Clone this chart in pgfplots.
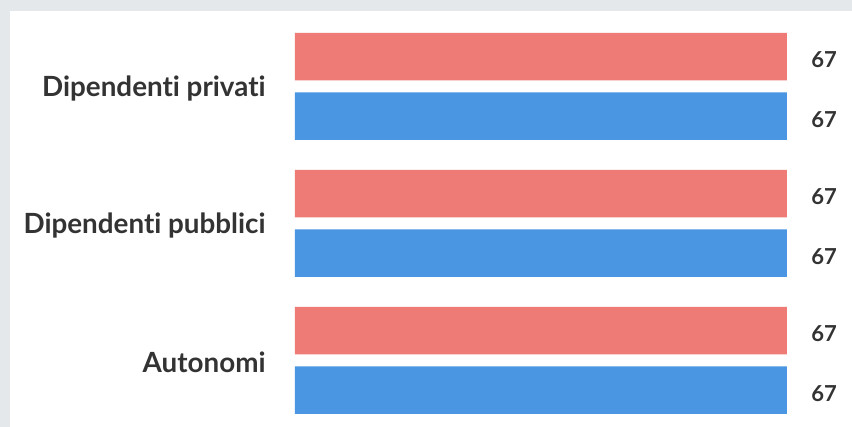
\documentclass[border=0pt]{standalone}
\usepackage{fontspec}
\setmainfont{Lato}[Ligatures=NoCommon]
\usepackage{pgfplots}
\pgfplotsset{compat=1.18}
\definecolor{redbar}{RGB}{238,123,117}
\definecolor{bluebar}{RGB}{74,150,227}
\definecolor{txt}{RGB}{51,51,51}
\definecolor{framegrey}{RGB}{229,232,235}
\begin{document}
\begin{tikzpicture}[x=0.5pt,y=0.5pt]
\fill[framegrey] (0,0) rectangle (852,427);
\fill[white] (10,0) rectangle (852,416);
\useasboundingbox (0,0) rectangle (852,427);
\begin{axis}[
  at={(147.5pt,0pt)}, anchor=south west,
  scale only axis, width=246pt, height=213.5pt,
  xmin=0, xmax=67, ymin=-0.6314, ymax=2.4854, y dir=reverse,
  axis line style={draw=none}, major tick length=0pt,
  xtick=\empty, ytick={0,1,2},
  yticklabels={Dipendenti privati,Dipendenti pubblici,Autonomi},
  yticklabel style={font=\fontsize{13.9}{16}\selectfont\bfseries, text=txt, anchor=east, inner sep=0pt, xshift=-14.5pt, yshift=-1pt},
  xbar, bar width=23.75pt,
  clip=false,
  /pgf/number format/assume math mode=true,
  nodes near coords,
  every node near coord/.append style={anchor=west, inner sep=0pt, xshift=12pt, yshift=-1.5pt, font=\fontsize{11}{13}\selectfont\bfseries, text=txt},
]
\addplot[draw=none, fill=redbar, bar shift=14.875pt] coordinates {(67,0) (67,1) (67,2)};
\addplot[draw=none, fill=bluebar, bar shift=-14.875pt] coordinates {(67,0) (67,1) (67,2)};
\end{axis}
\end{tikzpicture}
\end{document}
